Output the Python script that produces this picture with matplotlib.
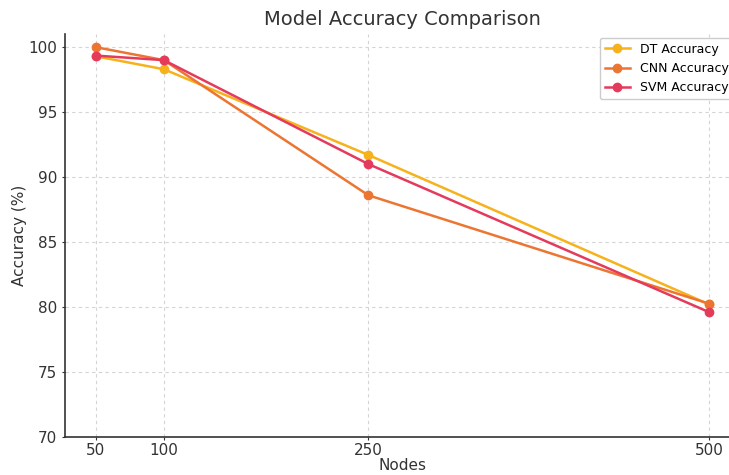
import matplotlib.pyplot as plt

# Datos
nodos = [50, 100, 250, 500]
dt_acc = [99.3, 98.3, 91.7, 80.2]
cnn_acc = [100.0, 99.0, 88.6, 80.25]
svm_acc = [99.35, 99.0, 91.0, 79.6]

fig = plt.figure(figsize=(7.29, 4.75), dpi=100)
ax = fig.add_axes([65 / 729, 38 / 475, 675 / 729, 403.5 / 475])

ax.plot(nodos, dt_acc, marker="o", color="#F7B21B", lw=1.8, ms=6, label="DT Accuracy")
ax.plot(nodos, cnn_acc, marker="o", color="#EC7532", lw=1.8, ms=6, label="CNN Accuracy")
ax.plot(nodos, svm_acc, marker="o", color="#E43A5C", lw=1.8, ms=6, label="SVM Accuracy")

ax.set_xticks(nodos)
ax.set_ylim(70, 101.05)
ax.set_xlim(27.5, 522.5)
ax.grid(True, linestyle=(0, (3, 3)), color="#d4d4d4", lw=0.8)
ax.tick_params(length=2, labelsize=11, colors="#333333")
ax.tick_params(axis="x", pad=2)
for s in ["top", "right"]:
    ax.spines[s].set_visible(False)
ax.spines["left"].set_color("#333333")
ax.spines["bottom"].set_color("#333333")
ax.spines["left"].set_linewidth(1.2)
ax.spines["bottom"].set_linewidth(1.2)

ax.set_title("Model Accuracy Comparison", fontsize=14, color="#333333", pad=6)
ax.set_xlabel("Nodes", fontsize=11, color="#333333", labelpad=0)
ax.set_ylabel("Accuracy (%)", fontsize=11, color="#333333", labelpad=1)
ax.legend(loc="upper right", bbox_to_anchor=(1.0, 1.005), fontsize=9, framealpha=1)

fig.savefig("out.png", dpi=100)
